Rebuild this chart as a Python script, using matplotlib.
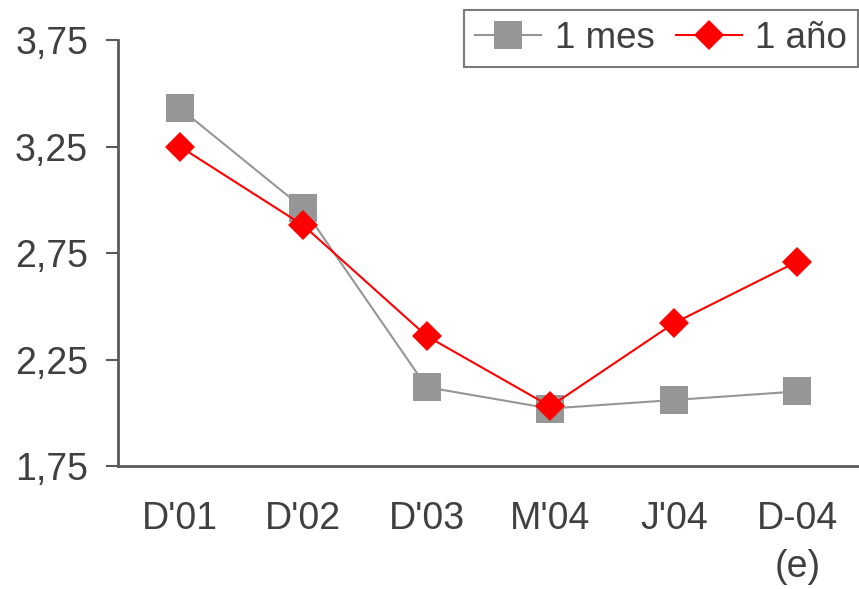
import matplotlib
matplotlib.use("Agg")
import matplotlib.pyplot as plt

plt.rcParams['font.family'] = ['Liberation Sans', 'DejaVu Sans']

categories = ["D'01", "D'02", "D'03", "M'04", "J'04", "D-04\n(e)"]
mes_1 = [3.43, 2.96, 2.12, 2.02, 2.06, 2.10]
anio_1 = [3.25, 2.88, 2.36, 2.03, 2.42, 2.71]
yticks = [1.75, 2.25, 2.75, 3.25, 3.75]
ytick_labels = ["1,75", "2,25", "2,75", "3,25", "3,75"]

text_color = "#404040"
spine_color = "#595959"

fig = plt.figure(figsize=(8.59, 5.89), dpi=100)
ax = fig.add_axes([0.1374, 0.2088, 0.8626, 0.7232])

x = list(range(len(categories)))
ax.plot(x, mes_1, color="#969696", lw=1.5, marker="s", markersize=20,
        markeredgewidth=0, label="1 mes", zorder=3)
ax.plot(x, anio_1, color="#ff0000", lw=1.5, marker="D", markersize=15,
        markeredgewidth=0, label="1 año", zorder=4)

ax.set_xlim(-0.5, len(categories) - 0.5)
ax.set_ylim(1.75, 3.75)
ax.set_yticks(yticks)
ax.set_yticklabels(ytick_labels)
ax.set_xticks(x)
ax.set_xticklabels(categories, linespacing=1.45, va="top")

for side in ("top", "right"):
    ax.spines[side].set_visible(False)
for side in ("left", "bottom"):
    ax.spines[side].set_color(spine_color)
    ax.spines[side].set_linewidth(2)

ax.tick_params(axis="y", direction="out", length=8.5, width=1.5,
               color=spine_color, labelsize=27, labelcolor=text_color, pad=13)
ax.tick_params(axis="x", length=0, labelsize=27, labelcolor=text_color, pad=25)

leg = ax.legend(loc="upper right", bbox_to_anchor=(0.999, 1.0704), ncol=2,
                fontsize=26.5, frameon=True, fancybox=False, borderpad=0.3,
                handlelength=1.8, handletextpad=0.36, columnspacing=0.58,
                borderaxespad=0.0, markerscale=1.0)
leg.get_frame().set_edgecolor(spine_color)
leg.get_frame().set_linewidth(1.5)
for t in leg.get_texts():
    t.set_color(text_color)

fig.savefig("out.png", dpi=100)
